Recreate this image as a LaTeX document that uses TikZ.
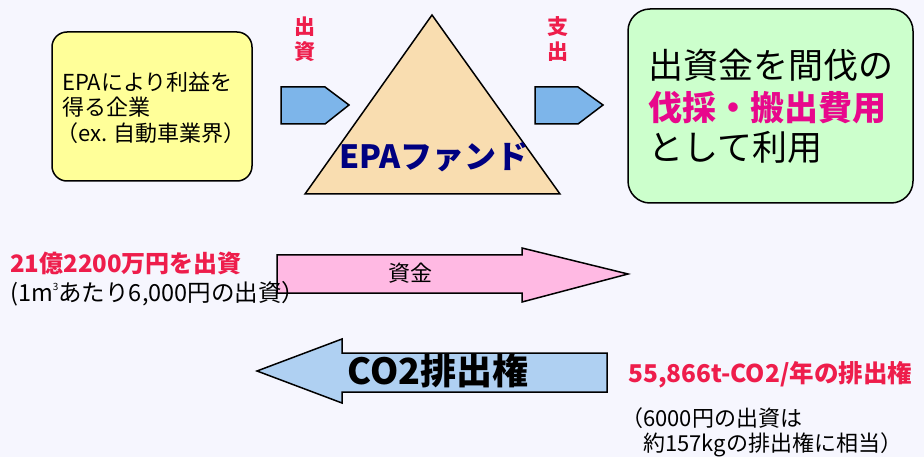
\documentclass[tikz,border=0pt]{standalone}
\usepackage{fontspec}
\setmainfont{Noto Sans CJK JP}
\setsansfont{Noto Sans CJK JP}
\definecolor{bgc}{HTML}{F6F6FE}
\definecolor{yellowbox}{HTML}{FFFF99}
\definecolor{wheatc}{HTML}{F9DDB0}
\definecolor{pentblue}{HTML}{7DB5EA}
\definecolor{greenbox}{HTML}{CCFFCC}
\definecolor{pinkc}{HTML}{FFB9E3}
\definecolor{lightblue}{HTML}{AFD0F2}
\definecolor{redtxt}{HTML}{EE1D4B}
\definecolor{magtxt}{HTML}{E8088C}
\definecolor{navytxt}{HTML}{000080}
\begin{document}
\begin{tikzpicture}[x=1pt,y=-1pt,
  shapeline/.style={draw=black,line width=1.5pt,line join=miter},
  txt/.style={inner sep=0pt,anchor=west},
  ctxt/.style={inner sep=0pt,anchor=center},
  fs/.style={font=\fontsize{#1}{#1}\selectfont},
  bfs/.style={font=\bfseries\fontsize{#1}{#1}\selectfont}]
\fill[bgc] (0,0) rectangle (924,457);
\useasboundingbox (0,0) rectangle (924,457);
% yellow box
\draw[shapeline,fill=yellowbox,rounded corners=15pt] (52,32) rectangle (252,181);
\node[txt,fs=22] (y1) at (62,82) {EPAにより利益を};
\node[txt,fs=22] (y2) at (62,107) {得る企業};
\node[txt,fs=22] (y3) at (56,133) {（ex. 自動車業界）};
% triangle
\draw[shapeline,fill=wheatc] (432,15) -- (305,194) -- (560,194) -- cycle;
\node[ctxt,bfs=32,text=navytxt] (fund) at (434,157) {EPAファンド};
% pentagons
\draw[shapeline,fill=pentblue] (281,87) -- (325,87) -- (349,105) -- (325,124) -- (281,124) -- cycle;
\draw[shapeline,fill=pentblue] (535,87) -- (578,87) -- (603,105) -- (578,124) -- (535,124) -- cycle;
\node[ctxt,bfs=21,text=redtxt] (s1) at (305,27) {出};
\node[ctxt,bfs=21,text=redtxt] (s2) at (305,52) {資};
\node[ctxt,bfs=21,text=redtxt] (t1) at (558,27) {支};
\node[ctxt,bfs=21,text=redtxt] (t2) at (558,52) {出};
% green box
\draw[shapeline,fill=greenbox,rounded corners=22pt] (628,9) rectangle (913,203);
\node[txt,fs=35] (g1) at (648,65) {出資金を間伐の};
\node[txt,bfs=34,text=magtxt] (g2) at (648,108) {伐採・搬出費用};
\node[txt,fs=35] (g3) at (648,147) {として利用};
% pink arrow
\draw[shapeline,fill=pinkc] (277,255) -- (522,255) -- (522,248) -- (628,274) -- (522,302) -- (522,293) -- (277,293) -- cycle;
\node[ctxt,fs=22] (shikin) at (410,273) {資金};
\node[txt,bfs=24,text=redtxt] (l1) at (10,263) {21億2200万円を出資};
\node[txt,fs=23.5] (l2) at (10,294) {(1m\raisebox{0.9ex}{\fontsize{10}{10}\selectfont 3}あたり6,000円の出資）};
% blue arrow
\draw[shapeline,fill=lightblue] (257,371) -- (342,339) -- (342,353) -- (607,353) -- (607,392) -- (342,392) -- (342,403) -- cycle;
\node[ctxt,bfs=36] (co2) at (438,371) {CO2排出権};
% right texts
\node[txt,bfs=24.5,text=redtxt] (r1) at (628,375) {55,866t-CO2/年の排出権};
\node[txt,fs=22] (r2) at (621,418) {（6000円の出資は};
\node[txt,fs=22] (r3) at (621,445) {　約157kgの排出権に相当）};
\end{tikzpicture}
\end{document}
